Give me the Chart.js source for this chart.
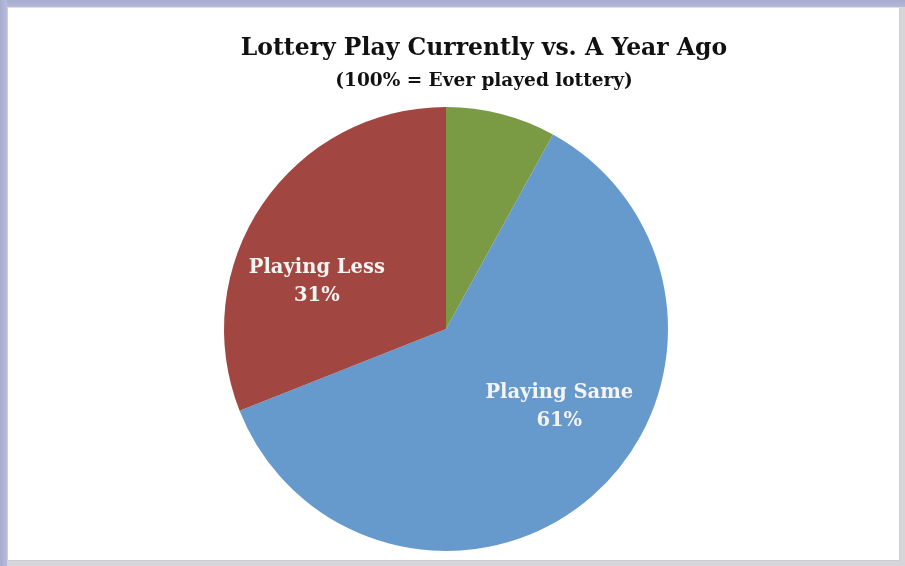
<!DOCTYPE html>
<html>
<head>
<meta charset="utf-8">
<script src="https://cdn.jsdelivr.net/npm/chart.js@4"></script>
<style>
  html,body{margin:0;padding:0;}
  body{width:905px;height:566px;overflow:hidden;position:relative;background:#d6d6da;}
  #topband{position:absolute;left:0;top:0;width:905px;height:7px;background:linear-gradient(#a7acd0,#b5bad9);}
  #leftband{position:absolute;left:0;top:0;width:7px;height:566px;background:linear-gradient(90deg,#a7acd0,#b8bcda);}
  #frame{position:absolute;left:7px;top:7px;width:891px;height:552px;background:#fff;border:1px solid #cfcfd2;border-top:1px solid #e2e2e6;}
  #wrap{position:absolute;left:70px;top:0;width:828px;height:566px;}
</style>
</head>
<body>
<div id="topband"></div>
<div id="leftband"></div>
<div id="frame"></div>
<div id="wrap"><canvas id="c"></canvas></div>
<script>
const titleText = "Lottery Play Currently vs. A Year Ago";
const subtitleText = "(100% = Ever played lottery)";
const categories = ["Playing More", "Playing Same", "Playing Less"];
const shares = [8, 61, 31];
const showLabel = [false, true, true];
const sliceColors = ["#7a9a44", "#6699cc", "#a14640"];

// Shift the plot area left of the title's centre (titles stay centred on the canvas)
const plotShift = {
  id: "plotShift",
  afterLayout(chart, args, opts) {
    const a = chart.chartArea;
    a.right -= opts.trimRight;
    a.width = a.right - a.left;
  }
};

const sliceLabels = {
  id: "sliceLabels",
  afterDatasetsDraw(chart, args, opts) {
    const ctx = chart.ctx;
    const meta = chart.getDatasetMeta(0);
    meta.data.forEach((arc, i) => {
      if (!showLabel[i]) return;
      const p = arc.getProps(["x","y","startAngle","endAngle","outerRadius"], true);
      const mid = (p.startAngle + p.endAngle) / 2 + opts.angleShift;
      const r = p.outerRadius * opts.radial;
      const cx = p.x + Math.cos(mid) * r;
      const cy = p.y + Math.sin(mid) * r;
      ctx.save();
      ctx.fillStyle = opts.color;
      ctx.font = opts.font;
      ctx.textAlign = "center";
      ctx.textBaseline = "middle";
      ctx.fillText(categories[i], cx, cy - opts.lineGap / 2);
      ctx.fillText(shares[i] + "%", cx, cy + opts.lineGap / 2);
      ctx.restore();
    });
  }
};

new Chart(document.getElementById("c"), {
  type: "pie",
  data: {
    labels: categories,
    datasets: [{
      data: shares,
      backgroundColor: sliceColors,
      borderWidth: 0
    }]
  },
  options: {
    responsive: true,
    maintainAspectRatio: false,
    animation: false,
    layout: { padding: { left: 0, right: 0, top: 0, bottom: 15 } },
    plugins: {
      legend: { display: false },
      tooltip: { enabled: false },
      title: {
        display: true,
        text: titleText,
        color: "#111111",
        font: { family: "'DejaVu Serif'", size: 23.5, weight: "bold" },
        padding: { top: 35, bottom: 7 }
      },
      subtitle: {
        display: true,
        text: subtitleText,
        color: "#111111",
        font: { family: "'DejaVu Serif'", size: 18.5, weight: "bold" },
        padding: { top: 0, bottom: 14.6 }
      },
      plotShift: { trimRight: 76 },
      sliceLabels: {
        radial: 0.62,
        angleShift: -14 * Math.PI / 180,
        lineGap: 28,
        color: "#f4f4f4",
        font: "bold 19.5px 'DejaVu Serif'"
      }
    }
  },
  plugins: [plotShift, sliceLabels]
});
</script>
</body>
</html>
